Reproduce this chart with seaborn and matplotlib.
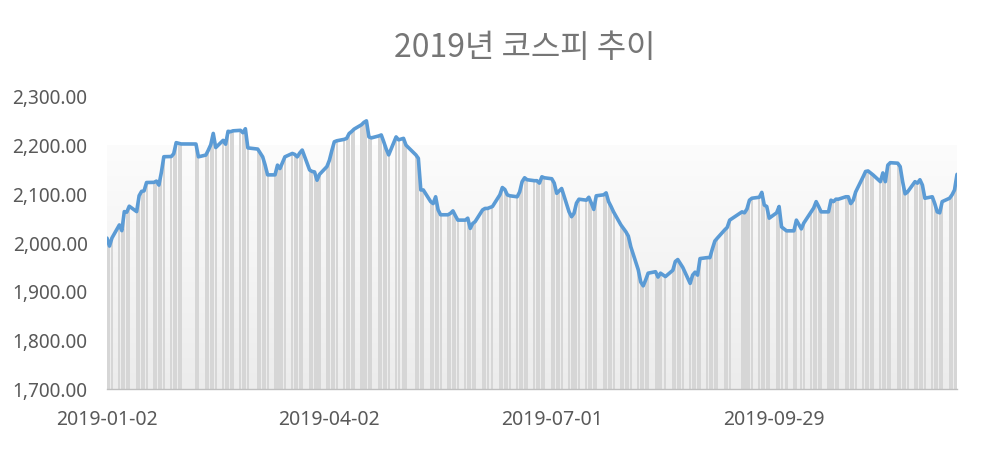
import numpy as np
import pandas as pd
import seaborn as sns
import matplotlib.pyplot as plt
import matplotlib.dates as mdates
from matplotlib.ticker import FuncFormatter

# --- 데이터: 2019 코스피 종가 ---
START = "2019-01-02"
END = "2019-12-12"
HOLIDAYS = ["2019-02-04", "2019-02-05", "2019-02-06", "2019-03-01", "2019-05-01",
            "2019-05-06", "2019-06-06", "2019-08-15", "2019-09-12", "2019-09-13",
            "2019-10-03", "2019-10-09"]

closes = [
    # 1월
    2010.0, 1993.7, 2010.3, 2037.1, 2025.3, 2064.5, 2063.3, 2075.6, 2064.5, 2097.2,
    2106.1, 2107.1, 2124.3, 2124.6, 2127.1, 2119.0, 2145.0, 2177.3, 2177.7, 2183.4,
    2206.2, 2204.9,
    # 2월
    2203.5, 2203.4, 2177.1, 2180.7, 2190.7, 2202.0, 2225.2, 2196.1, 2210.9, 2203.0,
    2229.5, 2228.7, 2230.5, 2231.5, 2226.6, 2234.8, 2195.4,
    # 3월
    2193, 2185, 2177, 2160, 2140, 2140, 2160, 2153, 2165, 2177,
    2184, 2182, 2177, 2185, 2191, 2150, 2147, 2146, 2129, 2141,
    # 4월
    2157, 2170, 2190, 2208, 2210, 2213, 2215, 2225, 2229, 2234,
    2243, 2248, 2251, 2218, 2216, 2220, 2222, 2208, 2193, 2181,
    2218, 2212,
    # 5월
    2215, 2201, 2181, 2174, 2109, 2109, 2085, 2081, 2095, 2068,
    2058, 2058, 2061, 2066, 2056, 2047, 2047, 2051, 2030, 2040,
    2044,
    # 6월
    2068, 2071, 2071, 2075, 2099, 2114, 2110, 2099, 2097, 2095,
    2105, 2126, 2134, 2130, 2128, 2128, 2123, 2136, 2134,
    # 7월
    2132, 2123, 2102, 2107, 2112, 2064, 2054, 2061, 2082, 2090,
    2088, 2094, 2082, 2069, 2097, 2099, 2103, 2085, 2075, 2064,
    2037, 2030, 2023,
    # 8월
    2014, 1992, 1945, 1920, 1912, 1924, 1938, 1941, 1930, 1938,
    1931, 1944, 1962, 1966, 1958, 1950, 1917, 1934, 1940, 1934,
    1968,
    # 9월
    1970, 1970, 1988, 2004, 2010, 2027, 2032, 2047, 2064, 2062,
    2070, 2088, 2092, 2094, 2104, 2078, 2075, 2051, 2062,
    # 10월
    2075, 2033, 2025, 2025, 2047, 2029, 2041, 2064, 2072, 2085,
    2075, 2064, 2064, 2088, 2085, 2090, 2090, 2095, 2095, 2081,
    2088,
    # 11월
    2105, 2136, 2147, 2148, 2144, 2140, 2126, 2144, 2126, 2160,
    2165, 2164, 2157, 2126, 2101, 2105, 2126, 2123, 2130, 2119,
    2092,
    # 12월
    2095, 2081, 2064, 2062, 2085, 2092, 2099, 2109, 2141,
]

X_TICKS = ["2019-01-02", "2019-04-02", "2019-07-01", "2019-09-29"]
Y_TICKS = [1700, 1800, 1900, 2000, 2100, 2200, 2300]
TITLE = "2019년 코스피 추이"

# 거래일 (주말, 휴장일 제외)
dates = pd.bdate_range(START, END)
dates = dates[~dates.isin(pd.to_datetime(HOLIDAYS))]
df = pd.DataFrame({"date": dates, "close": closes})

# --- 스타일 ---
sns.set_theme(style="white")
plt.rcParams['font.family'] = ['Noto Sans', 'Noto Sans CJK KR', 'DejaVu Sans']

fig = plt.figure(figsize=(9.82, 4.49), dpi=100)
ax = fig.add_axes([107 / 982, 60 / 449, 850 / 982, 292 / 449])

x0 = mdates.date2num(pd.Timestamp(START))
x1 = mdates.date2num(pd.Timestamp(END))

# 배경 그라데이션 (2,200 아래)
grad = np.linspace(0, 1, 256).reshape(-1, 1)
ax.imshow(grad, extent=[x0, x1, 1700, 2200], aspect='auto', origin='upper',
          cmap=sns.blend_palette(["#fcfcfc", "#ececec"], as_cmap=True), zorder=0)

# 막대 (일별)
ax.bar(df["date"], df["close"], width=0.82, color="#d6d6d6", linewidth=0, zorder=1)

# 종가 선
sns.lineplot(data=df, x="date", y="close", ax=ax, color="#5b9bd5",
             linewidth=2.6, zorder=3, solid_joinstyle="round")

ax.set_xlim(x0, x1)
ax.set_ylim(1700, 2300)
ax.set_yticks(Y_TICKS)
ax.yaxis.set_major_formatter(FuncFormatter(lambda v, p: f"{v:,.2f}"))
ax.set_xticks(pd.to_datetime(X_TICKS))
ax.xaxis.set_major_formatter(mdates.DateFormatter("%Y-%m-%d"))
ax.set_xlabel("")
ax.set_ylabel("")

for s in ["top", "right", "left"]:
    ax.spines[s].set_visible(False)
ax.spines["bottom"].set_color("#bfbfbf")
ax.spines["bottom"].set_linewidth(1)

ax.tick_params(axis="y", length=0, pad=14, labelsize=13.7, labelcolor="#595959")
ax.tick_params(axis="x", length=5, width=1, color="#bfbfbf", direction="out",
               pad=10, labelsize=14, labelcolor="#595959")

fig.text(525 / 982, 1 - 48 / 449, TITLE, ha="center", va="center",
         fontsize=23, color="#767676", family=['Noto Sans CJK KR', 'DejaVu Sans'])

fig.savefig("out.png", dpi=100, facecolor="white")
